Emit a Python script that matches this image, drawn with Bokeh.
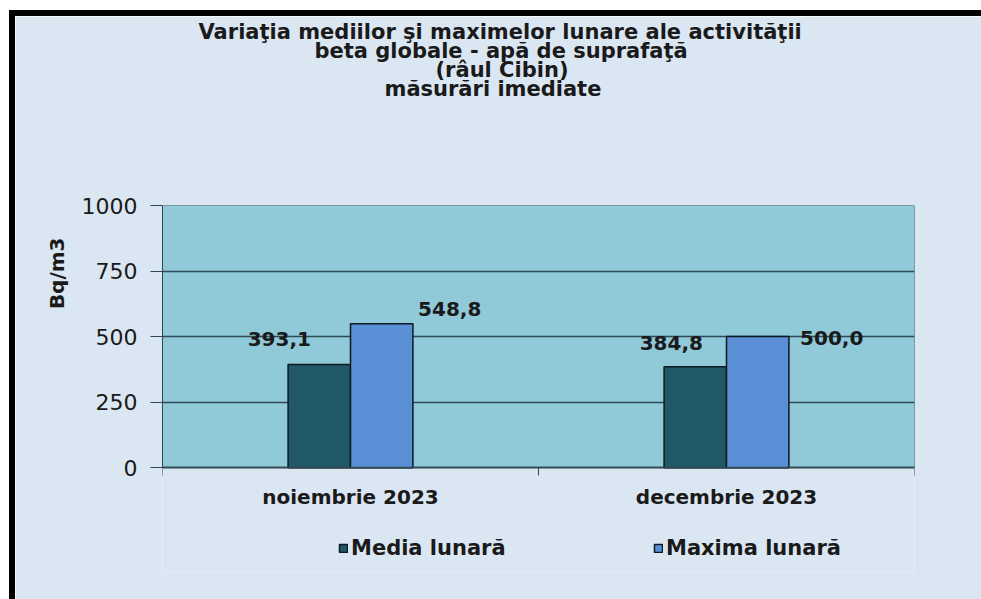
from bokeh.plotting import figure
from bokeh.models import (Range1d, FixedTicker, LabelSet, Legend, LegendItem,
                          ColumnDataSource, Title)
from bokeh.core.properties import value
from bokeh.embed import file_html
from bokeh.resources import INLINE

# ---------------- data ----------------
months = ["noiembrie 2023", "decembrie 2023"]
media = [393.1, 384.8]
maxima = [548.8, 500.0]
media_text = ["393,1", "384,8"]
maxima_text = ["548,8", "500,0"]
y_ticks = [0, 250, 500, 750, 1000]
series_names = ["Media lunară", "Maxima lunară"]
y_title = "Bq/m3"
title_lines = [
    "Variaţia mediilor şi maximelor lunare ale activităţii",
    "beta globale - apă de suprafaţă",
    "(râul Cibin)",
    "măsurări imediate",
]

# ---------------- style ----------------
FONT = "DejaVu Sans"
BG = "#dae7f3"
PLOT_BG = "#90c9d8"
C_MEDIA = "#215968"
C_MAX = "#5a8fd6"
GRID = "#2f4a55"
TXT = "#1a1a1a"
BAR_W = 0.166
TITLE_PX = 21
Y_EXTRA = 400          # room below the value axis for category labels and legend
title_offsets = [36, 152, 273, 222]   # px from frame left (style)
media_dx = [-40, -24]
media_dy = [26, 24]
maxima_dx = [68, 74]
maxima_dy = [15, -1]

y_lo, y_hi = y_ticks[0], y_ticks[-1]
p = figure(frame_width=752, frame_height=367, output_backend="svg", toolbar_location=None,
           x_range=Range1d(0, len(months)), y_range=Range1d(y_lo - Y_EXTRA, y_hi),
           min_border_left=147, min_border_right=67,
           min_border_top=0, min_border_bottom=40)
p.background_fill_color = BG
p.border_fill_color = BG
p.outline_line_color = None
p.margin = (10, 0, 0, 9)
p.styles = {"border-left": "6px solid black", "border-top": "6px solid black"}

# plot area (value region) behind the grid
p.quad(left=0, right=len(months), bottom=y_lo, top=y_hi, fill_color=PLOT_BG,
       line_color=GRID, line_width=1, level="image")

centers = [i + 0.5 for i in range(len(months))]
x_media = [c - BAR_W / 2 for c in centers]
x_max = [c + BAR_W / 2 for c in centers]

src_media = ColumnDataSource(dict(x=x_media, top=media, txt=media_text, dx=media_dx, dy=media_dy))
src_max = ColumnDataSource(dict(x=x_max, top=maxima, txt=maxima_text, dx=maxima_dx, dy=maxima_dy))

r1 = p.vbar(x="x", top="top", width=BAR_W, bottom=0, source=src_media,
            fill_color=C_MEDIA, line_color="#0d1a1f", line_width=1.5)
r2 = p.vbar(x="x", top="top", width=BAR_W, bottom=0, source=src_max,
            fill_color=C_MAX, line_color="#0d1a1f", line_width=1.5)

for src in (src_media, src_max):
    p.add_layout(LabelSet(x="x", y="top", text="txt", source=src,
                          x_offset="dx", y_offset="dy",
                          text_align="center", text_baseline="middle",
                          text_font=value(FONT), text_font_style="bold",
                          text_font_size="20px", text_color=TXT))

# axes
p.xgrid.visible = False
p.ygrid.grid_line_color = GRID
p.ygrid.grid_line_width = 1.5

p.yaxis.ticker = FixedTicker(ticks=y_ticks)
p.yaxis.bounds = (y_lo, y_hi)
p.yaxis.major_tick_out = 12
p.yaxis.major_tick_in = 0
p.yaxis.minor_tick_line_color = None
p.yaxis.major_tick_line_color = GRID
p.yaxis.axis_line_color = GRID
p.yaxis.major_label_standoff = 13
p.yaxis.major_label_text_font = FONT
p.yaxis.major_label_text_font_size = "22px"
p.yaxis.major_label_text_color = TXT

# y-axis title as a vertical title in the left panel, next to the value axis
p.add_layout(Title(text=y_title, align="right", offset=32, standoff=19,
                   text_font=FONT, text_font_style="bold",
                   text_font_size="20px", text_color=TXT), "left")

p.xaxis.fixed_location = y_lo
p.xaxis.ticker = FixedTicker(ticks=centers, minor_ticks=list(range(len(months) + 1)))
p.xaxis.major_label_overrides = {c: m for c, m in zip(centers, months)}
p.xaxis.major_tick_line_color = None
p.xaxis.minor_tick_out = 8
p.xaxis.minor_tick_in = 0
p.xaxis.minor_tick_line_color = GRID
p.xaxis.axis_line_color = GRID
p.xaxis.axis_line_width = 1.5
p.xaxis.major_label_standoff = 9
p.xaxis.major_label_text_font = FONT
p.xaxis.major_label_text_font_style = "bold"
p.xaxis.major_label_text_font_size = "20px"
p.xaxis.major_label_text_color = TXT

# title: gap spacer (closest to frame), the four lines, then a small top spacer
p.add_layout(Title(text=" ", text_font=FONT, text_font_size="21px", standoff=82), "above")
for line, off in reversed(list(zip(title_lines, title_offsets))):
    p.add_layout(Title(text=line, align="left", offset=off, standoff=-7,
                       text_font=FONT, text_font_style="bold",
                       text_font_size=f"{TITLE_PX}px", text_color=TXT), "above")
p.add_layout(Title(text=" ", text_font=FONT, text_font_size="6px", standoff=-4), "above")

# legend inside the (extended) frame, below the category labels
legend = Legend(items=[LegendItem(label=series_names[0], renderers=[r1]),
                       LegendItem(label=series_names[1], renderers=[r2])],
                orientation="horizontal", location=(176, 12),
                glyph_width=10, glyph_height=10, label_standoff=3,
                label_width=213, spacing=89,
                padding=0, margin=0, border_line_color=None,
                background_fill_alpha=0,
                label_text_font=FONT, label_text_font_style="bold",
                label_text_font_size="21px", label_text_color=TXT)
p.add_layout(legend)

open("out.html", "w").write(file_html(p, INLINE))
